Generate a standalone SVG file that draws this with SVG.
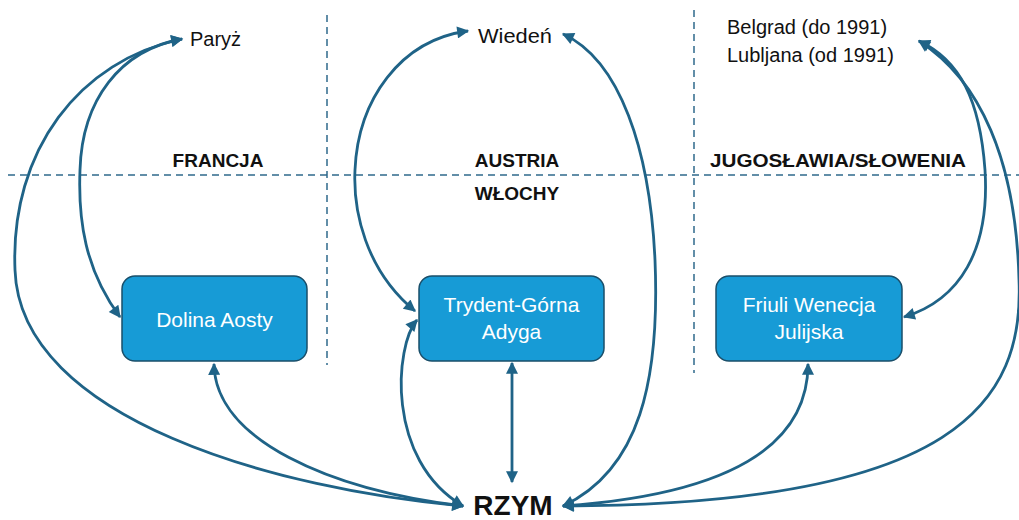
<svg xmlns="http://www.w3.org/2000/svg" width="1019" height="520" viewBox="0 0 1019 520">
<style>
.bg{fill:#ffffff}
.grid{stroke:#2F6A8C;stroke-width:1.5;stroke-dasharray:7 5;fill:none}
.box{fill:#179BD6;stroke:#1A4F6A;stroke-width:1.5}
.bt{font-family:"Liberation Sans",Arial,sans-serif;font-size:21px;fill:#ffffff;text-anchor:middle}
.city{font-family:"Liberation Sans",Arial,sans-serif;font-size:20px;fill:#111111}
.region{font-family:"Liberation Sans",Arial,sans-serif;font-size:19px;font-weight:bold;fill:#111111;text-anchor:middle}
.rome{font-family:"Liberation Sans",Arial,sans-serif;font-size:28px;font-weight:bold;fill:#111111;text-anchor:middle}
.con{fill:none;stroke:#1F6387;stroke-width:2.8}
</style>
<defs>
<marker id="ah" viewBox="0 0 10 10" refX="9" refY="5" markerWidth="14" markerHeight="12" markerUnits="userSpaceOnUse" orient="auto-start-reverse">
<path d="M0,0 L10,5 L0,10 z" fill="#1F6387"/>
</marker>
</defs>
<rect class="bg" x="0" y="0" width="1019" height="520"/>
<g id="grid">
<line class="grid" x1="8" y1="175" x2="1019" y2="175"/>
<line class="grid" x1="327" y1="15" x2="327" y2="365"/>
<line class="grid" x1="694" y1="10" x2="694" y2="373"/>
</g>
<g id="labels">
<text class="region" x="218" y="167">FRANCJA</text>
<text class="region" x="517" y="167">AUSTRIA</text>
<text class="region" x="517" y="200">WŁOCHY</text>
<text class="region" x="838" y="167" textLength="256" lengthAdjust="spacingAndGlyphs">JUGOSŁAWIA/SŁOWENIA</text>
</g>
<g id="connectors">
<path class="con" d="M120,317 C85,270 78,220 80,170 C82,100 120,50 182,39" marker-start="url(#ah)" marker-end="url(#ah)"/>
<path class="con" d="M463,506 C280,490 20,420 15,270 C10,150 80,60 182,39" marker-start="url(#ah)" marker-end="url(#ah)"/>
<path class="con" d="M214,364 C215,440 330,490 463,506" marker-start="url(#ah)" marker-end="url(#ah)"/>
<path class="con" d="M417,320 C395,345 385,460 463,506" marker-start="url(#ah)" marker-end="url(#ah)"/>
<path class="con" d="M415,311 C365,270 353,210 355,170 C358,100 400,40 468,31" marker-start="url(#ah)" marker-end="url(#ah)"/>
<path class="con" d="M563,506 C640,470 660,380 655,260 C650,150 620,60 563,34" marker-start="url(#ah)" marker-end="url(#ah)"/>
<path class="con" d="M512,363 L512,482" marker-start="url(#ah)" marker-end="url(#ah)"/>
<path class="con" d="M904,317 C960,300 990,250 985,170 C980,100 960,60 919,41" marker-start="url(#ah)" marker-end="url(#ah)"/>
<path class="con" d="M563,506 C960,505 1024,400 1019,280 C1016,160 980,80 919,41" marker-start="url(#ah)" marker-end="url(#ah)"/>
<path class="con" d="M808,364 C808,450 720,495 563,506" marker-start="url(#ah)" marker-end="url(#ah)"/>
</g>
<g id="paryz"><text class="city" x="190" y="46">Paryż</text></g>
<g id="wieden"><text class="city" x="478" y="43" textLength="74" lengthAdjust="spacingAndGlyphs">Wiedeń</text></g>
<g id="belgrad">
<text class="city" x="727" y="34">Belgrad (do 1991)</text>
<text class="city" x="727" y="62">Lubljana (od 1991)</text>
</g>
<g id="dolina-aosty">
<rect class="box" x="122" y="276" width="185" height="85" rx="13"/>
<text class="bt" x="214.5" y="327">Dolina Aosty</text>
</g>
<g id="trydent">
<rect class="box" x="419" y="276" width="185" height="85" rx="13"/>
<text class="bt" x="511.5" y="312">Trydent-Górna</text>
<text class="bt" x="511.5" y="339">Adyga</text>
</g>
<g id="friuli">
<rect class="box" x="716" y="276" width="186" height="85" rx="13"/>
<text class="bt" x="809" y="312">Friuli Wenecja</text>
<text class="bt" x="809" y="339">Julijska</text>
</g>
<g id="rzym"><text class="rome" x="513" y="515">RZYM</text></g>
</svg>
